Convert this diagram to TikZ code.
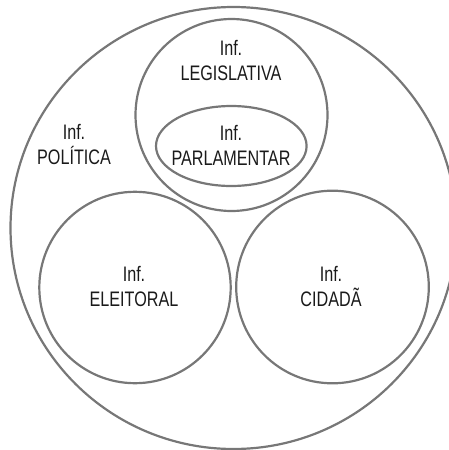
\documentclass[tikz,border=0pt]{standalone}
\usepackage{fontspec}
\setmainfont{Liberation Sans}[FakeStretch=0.77]
\begin{document}
\begin{tikzpicture}[x=1pt,y=-1pt,
  ring/.style={draw=ringgray,line width=2.2pt},
  lbl/.style={align=center,inner sep=0pt,anchor=base,text=txtblack,
    font=\fontsize{21}{24.5}\selectfont}]
\definecolor{ringgray}{HTML}{777777}
\definecolor{txtblack}{HTML}{1A1A1A}
\useasboundingbox (0,0) rectangle (448,450);
\draw[ring] (233.5,228) ellipse [x radius=223, y radius=221];
\draw[ring] (231.5,115) circle [radius=96];
\draw[ring] (231.3,146) ellipse [x radius=75.3, y radius=40];
\draw[ring] (135,287.5) circle [radius=95.7];
\draw[ring] (332.5,287) circle [radius=96.3];
\node[lbl] (legis) at (231,80) {Inf.\\LEGISLATIVA};
\node[lbl] (parla) at (231,165) {Inf.\\PARLAMENTAR};
\node[lbl] (polit) at (74,164) {Inf.\\POLÍTICA};
\node[lbl] (eleit) at (134,306) {Inf.\\ELEITORAL};
\node[lbl] (cidad) at (331,306) {Inf.\\CIDADÃ};
\end{tikzpicture}
\end{document}
